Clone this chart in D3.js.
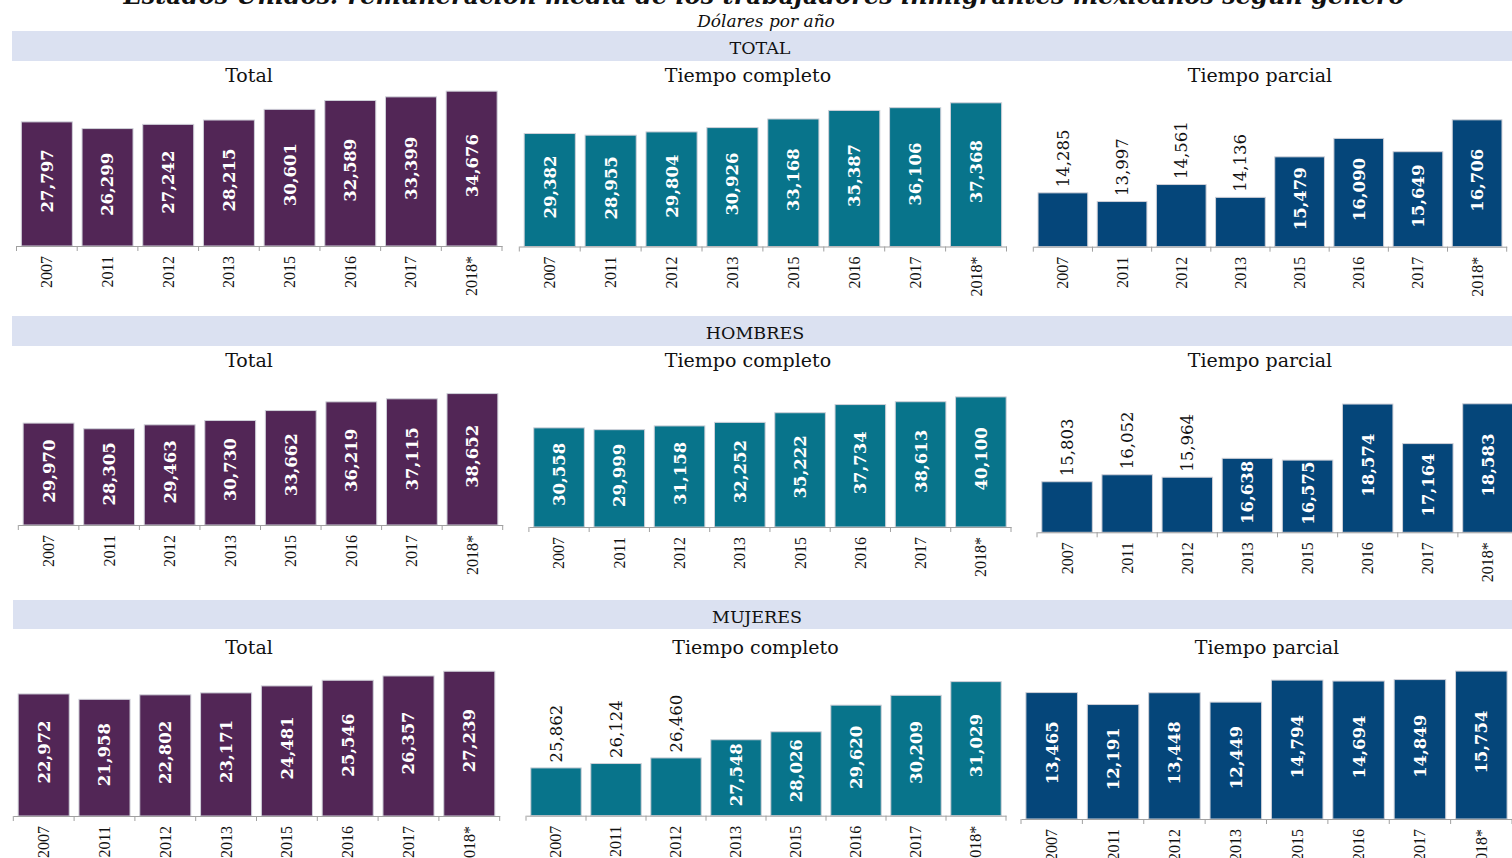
<!DOCTYPE html>
<html><head><meta charset="utf-8">
<script src="https://cdn.jsdelivr.net/npm/d3@7"></script>
<style>
html,body{margin:0;padding:0;background:#fff;overflow:hidden;}
svg{display:block;}
</style></head>
<body>
<svg id="c" width="1512" height="858"></svg>
<script>
// ---------------- DATA ----------------
const years = ["2007","2011","2012","2013","2015","2016","2017","2018*"];
const totalTotal      = [27797,26299,27242,28215,30601,32589,33399,34676];
const totalCompleto   = [29382,28955,29804,30926,33168,35387,36106,37368];
const totalParcial    = [14285,13997,14561,14136,15479,16090,15649,16706];
const hombresTotal    = [29970,28305,29463,30730,33662,36219,37115,38652];
const hombresCompleto = [30558,29999,31158,32252,35222,37734,38613,40100];
const hombresParcial  = [15803,16052,15964,16638,16575,18574,17164,18583];
const mujeresTotal    = [22972,21958,22802,23171,24481,25546,26357,27239];
const mujeresCompleto = [25862,26124,26460,27548,28026,29620,30209,31029];
const mujeresParcial  = [13465,12191,13448,12449,14794,14694,14849,15754];

const mainTitle = "Estados Unidos: remuneración media de los trabajadores inmigrantes mexicanos según género";
const subTitle = "Dólares por año";
const sectionNames = ["TOTAL","HOMBRES","MUJERES"];
const panelTitles = ["Total","Tiempo completo","Tiempo parcial"];

// ---------------- LAYOUT ----------------
const purple = "#522656", teal = "#08748b", navy = "#05467a";
const sections = [
  {y:31, h:30, x:12, textY:53.5, tx:760},
  {y:316, h:30, x:12, textY:338.5, tx:755},
  {y:600, h:29, x:13, textY:623, tx:757}
];
const panels = [
  {sec:0, t:0, data: totalTotal,      color:purple, x0:16.5, x1:502,   base:246,   dom:[0,40000],     top:67.4,  tx:249,  ty:82},
  {sec:0, t:1, data: totalCompleto,   color:teal,   x0:519.3,x1:1006.5,base:246.5, dom:[0,40000],     top:92.7,  tx:748,  ty:82},
  {sec:0, t:2, data: totalParcial,    color:navy,   x0:1033.3,x1:1506.7,base:246.7,dom:[12500,18000], top:80.8,  tx:1260, ty:82},
  {sec:1, t:0, data: hombresTotal,    color:purple, x0:18.3, x1:502.7, base:525,   dom:[0,45000],     top:372,   tx:249,  ty:367},
  {sec:1, t:1, data: hombresCompleto, color:teal,   x0:528.9,x1:1011,  base:527,   dom:[0,45000],     top:381,   tx:748,  ty:367},
  {sec:1, t:2, data: hombresParcial,  color:navy,   x0:1037, x1:1518,  base:532.3, dom:[14000,19000], top:392.1, tx:1260, ty:367},
  {sec:2, t:0, data: mujeresTotal,    color:purple, x0:13.3, x1:499.7, base:816,   dom:[0,30000],     top:656.6, tx:249,  ty:653.5},
  {sec:2, t:1, data: mujeresCompleto, color:teal,   x0:526,  x1:1006,  base:815.7, dom:[23000,32000], top:665.4, tx:755.5,ty:653.5},
  {sec:2, t:2, data: mujeresParcial,  color:navy,   x0:1021, x1:1512,  base:819,   dom:[0,18000],     top:650,   tx:1267, ty:653.5}
];

const serif = "'DejaVu Serif', serif";
const times = "'Liberation Serif', serif";
const fmt = d3.format(",");
const svg = d3.select("#c");

// main title (partly cut off at top, as in reference)
svg.append("text").attr("x", 764).attr("y", 4).attr("text-anchor","middle")
  .style("font-family", serif).style("font-weight","bold").style("font-style","italic")
  .style("font-size","24px").attr("fill","#111").text(mainTitle);
svg.append("text").attr("x", 766).attr("y", 27).attr("text-anchor","middle")
  .style("font-family", serif).style("font-style","italic")
  .style("font-size","17px").attr("fill","#111").text(subTitle);

sections.forEach((s,i)=>{
  svg.append("rect").attr("x", s.x).attr("y", s.y).attr("width", 1512 - s.x).attr("height", s.h)
    .attr("fill","#dbe1f1");
  svg.append("text").attr("x", s.tx).attr("y", s.textY).attr("text-anchor","middle")
    .style("font-family", serif).style("font-size","17.5px").attr("fill","#111").text(sectionNames[i]);
});

panels.forEach(p=>{
  const g = svg.append("g");
  const x = d3.scaleBand().domain(years).range([p.x0, p.x1]).paddingInner(0.16).paddingOuter(0.08);
  const y = d3.scaleLinear().domain(p.dom).range([p.base, p.top]);
  const rows = years.map((yr,i)=>({yr, v:p.data[i]}));

  g.append("text").attr("x", p.tx).attr("y", p.ty).attr("text-anchor","middle")
    .style("font-family", serif).style("font-size","19px").attr("fill","#111").text(panelTitles[p.t]);

  g.selectAll("rect.bar").data(rows).join("rect").attr("class","bar")
    .attr("x", d=>x(d.yr)).attr("width", x.bandwidth())
    .attr("y", d=>y(d.v)).attr("height", d=>p.base - y(d.v))
    .attr("fill", p.color).attr("stroke","#cfd0d8").attr("stroke-width",1);

  // value labels
  g.selectAll("text.val").data(rows).join("text").attr("class","val")
    .each(function(d){
      const h = p.base - y(d.v);
      const cx = x(d.yr) + x.bandwidth()/2;
      const t = d3.select(this).text(fmt(d.v)).attr("dy","0.36em")
        .style("font-family", serif).style("font-size","16.5px");
      if (h >= 66) {
        const cy = (y(d.v) + p.base)/2 - 3;
        t.attr("transform", `translate(${cx},${cy}) rotate(-90)`).attr("text-anchor","middle")
          .style("font-weight","bold").attr("fill","#fff");
      } else {
        t.attr("transform", `translate(${cx},${y(d.v) - 5.5}) rotate(-90)`).attr("text-anchor","start")
          .attr("fill","#111");
      }
    });

  // axis
  const ax = g.append("g").attr("transform", `translate(0,${p.base})`)
    .call(d3.axisBottom(x).tickSize(0).tickSizeOuter(0));
  ax.select(".domain").attr("stroke","#a0a0a0").attr("stroke-width",1);
  ax.selectAll(".tick text").attr("transform","rotate(-90)").attr("x",-10).attr("y",0)
    .attr("dy","0.34em").style("text-anchor","end")
    .style("font-family", times).style("font-size","16px").attr("fill","#111");
  const edges = years.map(yr => x(yr) - x.step()*x.paddingInner()/2).concat([p.x1]);
  g.selectAll("line.edge").data(edges).join("line").attr("class","edge")
    .attr("x1", d=>d).attr("x2", d=>d).attr("y1", p.base).attr("y2", p.base + 5)
    .attr("stroke","#a0a0a0").attr("stroke-width",1);
});
</script>
</body></html>
